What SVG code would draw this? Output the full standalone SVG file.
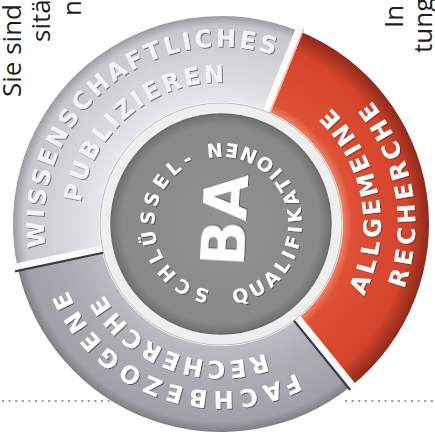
<svg xmlns="http://www.w3.org/2000/svg" width="435" height="439" viewBox="0 0 435 439">
<defs>
<radialGradient id="gTop" gradientUnits="userSpaceOnUse" cx="221" cy="224" r="208">
<stop offset="0.58" stop-color="#e8e8ee"/><stop offset="0.72" stop-color="#d8d8de"/><stop offset="0.95" stop-color="#c8c8ce"/><stop offset="1" stop-color="#9c9ca2"/>
</radialGradient>
<radialGradient id="gBot" gradientUnits="userSpaceOnUse" cx="221" cy="224" r="208">
<stop offset="0.58" stop-color="#bdbcc4"/><stop offset="0.75" stop-color="#adacb5"/><stop offset="0.95" stop-color="#a2a1aa"/><stop offset="1" stop-color="#7e7e86"/>
</radialGradient>
<radialGradient id="gRed" gradientUnits="userSpaceOnUse" cx="221" cy="224" r="208">
<stop offset="0.58" stop-color="#f08a6a"/><stop offset="0.63" stop-color="#de5136"/><stop offset="0.9" stop-color="#d5432c"/><stop offset="1" stop-color="#8e2a1c"/>
</radialGradient>
<radialGradient id="gDisc" gradientUnits="userSpaceOnUse" cx="221" cy="224" r="110">
<stop offset="0" stop-color="#8f9290"/><stop offset="0.9" stop-color="#878a8a"/><stop offset="1" stop-color="#6e7072"/>
</radialGradient>
<filter id="emb" x="-10%" y="-10%" width="120%" height="120%">
<feDropShadow dx="1" dy="1" stdDeviation="0.6" flood-color="#2a2a2a" flood-opacity="0.6"/>
</filter>
<path id="pT1" d="M 76.0 325.5 A 177 177 0 0 1 346.2 98.8"/>
<path id="pT2" d="M 104.7 305.5 A 142 142 0 0 1 321.4 123.6"/>
<path id="pR1" d="M 262.4 378.5 A 160 160 0 0 0 207.1 64.6"/>
<path id="pR2" d="M 271.2 411.4 A 194 194 0 0 0 204.1 30.7"/>
<path id="pB1" d="M 372.4 294.6 A 167 167 0 0 1 59.7 180.8"/>
<path id="pB2" d="M 345.2 281.9 A 137 137 0 0 1 88.7 188.5"/>
<path id="pS" d="M 226.8 290.7 A 67 67 0 0 1 209.4 158.0"/>
<path id="pQ" d="M 206.9 303.8 A 81 81 0 1 0 180.5 153.9"/>
</defs>
<style>
.seg{stroke:none}
.lbl{font-family:"DejaVu Sans","Liberation Sans",sans-serif;font-weight:bold;font-size:24px;fill:#ffffff;filter:url(#emb)}
.lblTop{fill:#f4f4f8}
.inner{font-size:19px}
.page{font-family:"Open Sans","Noto Sans",sans-serif;font-size:26px;fill:#1e1e1e}
.dots{stroke:#9a9a9a;stroke-width:2;stroke-dasharray:2 4.6;fill:none}
</style>
<rect width="435" height="439" fill="#ffffff"/>

<g id="page-text">
<text class="page" transform="translate(21 97) rotate(-90)">Sie sind</text>
<text class="page" transform="translate(50 42) rotate(-90)">sität</text>
<text class="page" transform="translate(81 16) rotate(-90)">ne</text>
<text class="page" transform="translate(403 28) rotate(-90)">In</text>
<text class="page" transform="translate(432 53) rotate(-90)">tung</text>
</g>

<g id="dotted-lines">
<line class="dots" x1="2" y1="401" x2="110" y2="401"/>
<line class="dots" x1="345" y1="401" x2="435" y2="401"/>
</g>

<g id="seg-publizieren">
<path class="seg" fill="url(#gTop)" d="M 17.5 267.2 A 208 208 0 0 1 298.9 31.1 L 266.7 110.9 A 122 122 0 0 0 101.7 249.4 Z"/>
<text class="lbl lblTop"><textPath href="#pT1" startOffset="50%" text-anchor="middle" textLength="356" lengthAdjust="spacing">WISSENSCHAFTLICHES</textPath></text>
<text class="lbl lblTop"><textPath href="#pT2" startOffset="50%" text-anchor="middle" textLength="205" lengthAdjust="spacing">PUBLIZIEREN</textPath></text>
</g>

<g id="seg-allgemeine">
<path class="seg" fill="url(#gRed)" d="M 298.9 31.1 A 208 208 0 0 1 351.9 385.6 L 297.8 318.8 A 122 122 0 0 0 266.7 110.9 Z"/>
<text class="lbl"><textPath href="#pR1" startOffset="50%" text-anchor="middle" textLength="205" lengthAdjust="spacing">ALLGEMEINE</textPath></text>
<text class="lbl"><textPath href="#pR2" startOffset="50%" text-anchor="middle" textLength="200" lengthAdjust="spacing">RECHERCHE</textPath></text>
</g>

<g id="seg-fachbezogene">
<path class="seg" fill="url(#gBot)" d="M 351.9 385.6 A 208 208 0 0 1 17.5 267.2 L 101.7 249.4 A 122 122 0 0 0 297.8 318.8 Z"/>
<text class="lbl"><textPath href="#pB1" startOffset="50%" text-anchor="middle" textLength="273" lengthAdjust="spacing">FACHBEZOGENE</textPath></text>
<text class="lbl"><textPath href="#pB2" startOffset="50%" text-anchor="middle" textLength="187" lengthAdjust="spacing">RECHERCHE</textPath></text>
</g>

<g id="gaps">
<line x1="264.5" y1="116.4" x2="300.4" y2="27.4" stroke="#fafafa" stroke-width="8"/>
<line x1="295.3" y1="315.7" x2="354.4" y2="388.8" stroke="#fafafa" stroke-width="8"/>
<line x1="106.6" y1="248.4" x2="13.6" y2="268.0" stroke="#fafafa" stroke-width="8"/>
<line x1="292.6" y1="318.9" x2="350.2" y2="390.0" stroke="#3a3a40" stroke-width="2.2"/>
<line x1="104.3" y1="252.5" x2="15.0" y2="271.3" stroke="#3a3a40" stroke-width="2.2"/>
<line x1="268.6" y1="115.6" x2="303.6" y2="29.0" stroke="#f2b8a6" stroke-width="1.5"/>
</g>

<g id="hub">
<circle cx="221" cy="224" r="121" fill="#efefef" stroke="#bdbdbd" stroke-width="1"/>
<circle cx="221" cy="224" r="110" fill="url(#gDisc)" stroke="#6a6c6e" stroke-width="1.5"/>
<text class="lbl inner"><textPath href="#pS" startOffset="50%" text-anchor="middle" textLength="170" lengthAdjust="spacing">SCHLÜSSEL-</textPath></text>
<text class="lbl inner"><textPath href="#pQ" startOffset="50%" text-anchor="middle" textLength="256" lengthAdjust="spacing">QUALIFIKATIONEN</textPath></text>
<text class="lbl" style="font-size:60px" text-anchor="middle" transform="translate(224 220) rotate(-87)" x="0" y="22">BA</text>
</g>
</svg>
